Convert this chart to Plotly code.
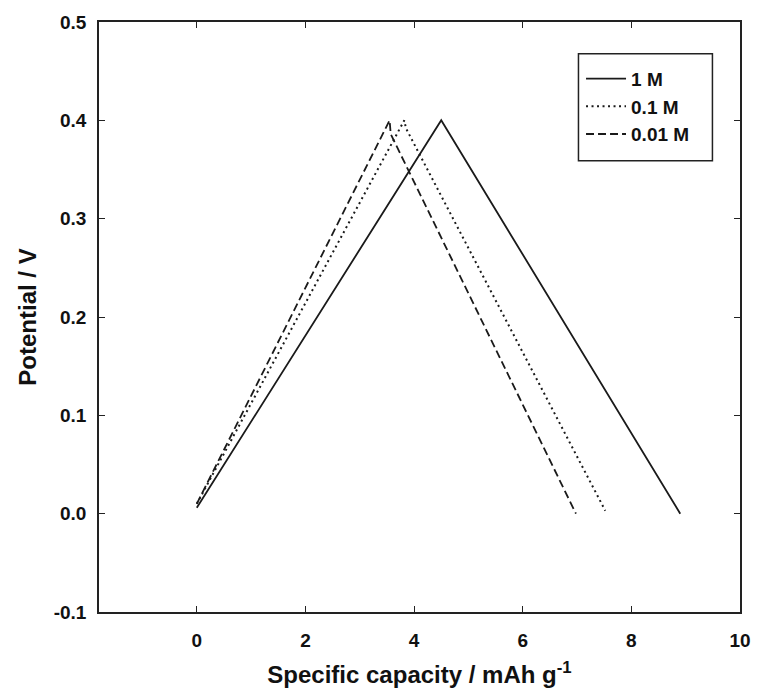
import plotly.graph_objects as go

# Galvanostatic charge/discharge curves for three electrolyte concentrations
labels = ["1 M", "0.1 M", "0.01 M"]

cap_1M = [0.0, 4.50, 8.90]
pot_1M = [0.006, 0.400, 0.000]

cap_01M = [0.0, 3.82, 3.85, 7.52]
pot_01M = [0.010, 0.400, 0.392, 0.003]

cap_001M = [0.0, 3.55, 3.57, 6.98]
pot_001M = [0.010, 0.400, 0.386, 0.000]

x_ticks = [0, 2, 4, 6, 8, 10]
y_ticks = [-0.1, 0.0, 0.1, 0.2, 0.3, 0.4, 0.5]
y_ticklabels = ["-0.1", "0.0", "0.1", "0.2", "0.3", "0.4", "0.5"]

dash_styles = ["solid", "2px,3.5px", "8px,4px"]
widths = [1.8, 2.0, 1.8]

series = [(cap_1M, pot_1M), (cap_01M, pot_01M), (cap_001M, pot_001M)]

FONT = "Liberation Sans, Arial, sans-serif"

fig = go.Figure()
for name, (x, y), dash, w in zip(labels, series, dash_styles, widths):
    fig.add_trace(go.Scatter(
        x=x, y=y, mode="lines", name=f"<b>{name}</b>",
        line=dict(color="#1a1a1a", width=w, dash=dash),
    ))

tick_font = dict(family=FONT, size=19, color="#111", weight="bold")
title_font = dict(family=FONT, size=24, color="#111")

# framed box behind the legend entries
fig.add_shape(
    type="rect", xref="paper", yref="paper",
    x0=0.748, x1=0.957, y0=0.765, y1=0.946,
    line=dict(color="#222", width=1.5), fillcolor="white", layer="below",
)

fig.update_layout(
    width=763, height=696,
    margin=dict(l=99, r=17, t=22, b=82),
    paper_bgcolor="white", plot_bgcolor="white",
    font=dict(family=FONT),
    showlegend=True,
    legend=dict(
        x=0.752, y=0.936, xanchor="left", yanchor="top",
        borderwidth=0, bgcolor="rgba(0,0,0,0)",
        font=dict(family=FONT, size=19, color="#111"),
        itemwidth=40, tracegroupgap=0,
    ),
    xaxis=dict(
        range=[-1.8, 10], tickvals=x_ticks,
        ticks="inside", ticklen=6, tickwidth=1.3, tickcolor="#222",
        showline=True, linecolor="#222", linewidth=1.5, mirror="ticks",
        showgrid=False, zeroline=False,
        tickfont=tick_font, ticklabelstandoff=10,
        title=dict(text="<b>Specific capacity / mAh g<sup>-1</sup></b>", font=title_font, standoff=17),
    ),
    yaxis=dict(
        range=[-0.1, 0.5], tickvals=y_ticks, ticktext=y_ticklabels,
        ticks="inside", ticklen=6, tickwidth=1.3, tickcolor="#222",
        showline=True, linecolor="#222", linewidth=1.5, mirror="ticks",
        showgrid=False, zeroline=False,
        tickfont=tick_font, ticklabelstandoff=7,
        title=dict(text="<b>Potential / V</b>", font=title_font, standoff=10),
    ),
)

fig.write_html("out.html")
